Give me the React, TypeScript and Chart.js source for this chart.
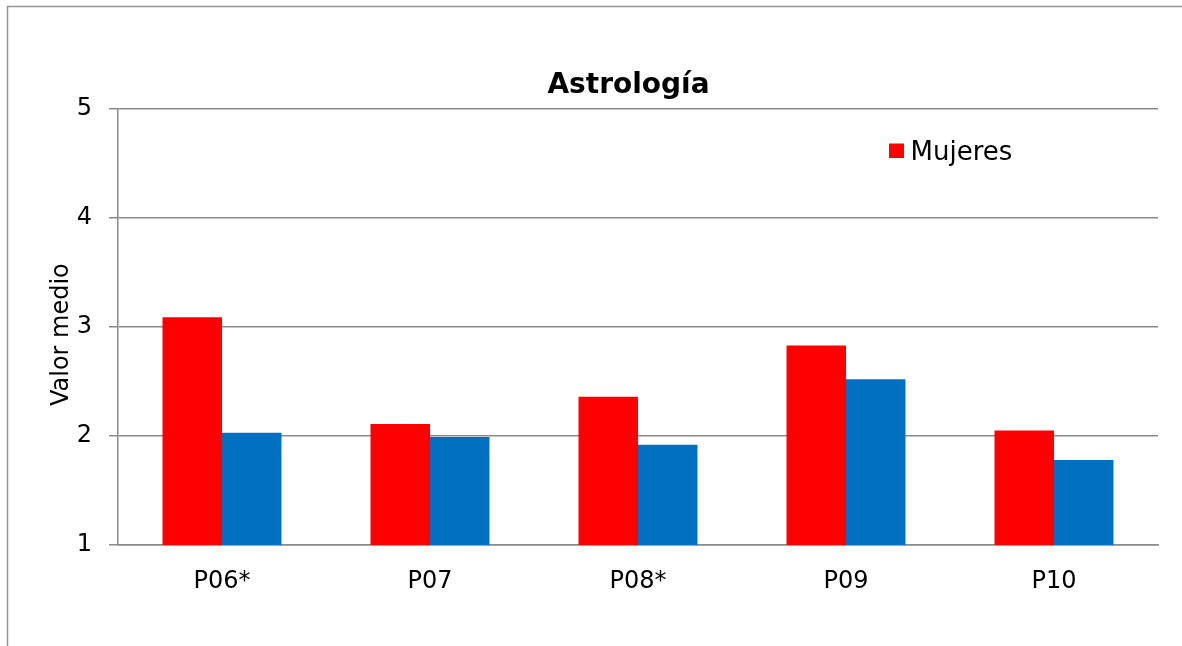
import React, { useEffect, useRef } from "react";
import { Chart, registerables } from "chart.js";

Chart.register(...registerables);

const categories = ["P06*", "P07", "P08*", "P09", "P10"];
const mujeres = [3.09, 2.11, 2.36, 2.83, 2.05];
const hombres = [2.03, 1.99, 1.92, 2.52, 1.78];
const yTicks = [1, 2, 3, 4, 5];
const chartTitle = "Astrología";
const yTitle = "Valor medio";
const legendLabel = "Mujeres";
const secondLabel = "Hombres";

const FONT = "'DejaVu Sans', Verdana, sans-serif";
const RED = "#FF0000";
const BLUE = "#0070C0";
const GRID = "#8a8a8a";

const decorPlugin = {
  id: "decor",
  beforeDraw(chart: any) {
    const ctx = chart.ctx;
    ctx.save();
    ctx.strokeStyle = "#959595";
    ctx.lineWidth = 1.5;
    ctx.beginPath();
    ctx.moveTo(7.5, 700);
    ctx.lineTo(7.5, 6.5);
    ctx.lineTo(1200, 6.5);
    ctx.stroke();
    ctx.restore();
  },
  afterDraw(chart: any) {
    const ctx = chart.ctx;
    ctx.save();
    // title
    ctx.fillStyle = "#000";
    ctx.font = `bold 28px ${FONT}`;
    ctx.textAlign = "center";
    ctx.textBaseline = "alphabetic";
    ctx.fillText(chartTitle, 628.5, 92.5);
    // legend (first series only)
    ctx.fillStyle = RED;
    ctx.fillRect(889, 143.5, 15, 14.5);
    ctx.fillStyle = "#000";
    ctx.font = `26px ${FONT}`;
    ctx.textAlign = "left";
    ctx.fillText(legendLabel, 910.5, 160);
    ctx.restore();
  },
};

export default function App() {
  const ref = useRef<HTMLCanvasElement | null>(null);

  useEffect(() => {
    document.body.style.margin = "0";
    if (!ref.current) return;
    const chart = new Chart(ref.current, {
      type: "bar",
      data: {
        labels: categories,
        datasets: [
          {
            label: legendLabel,
            data: mujeres,
            backgroundColor: RED,
            borderWidth: 0,
            categoryPercentage: 0.572,
            barPercentage: 1,
          },
          {
            label: secondLabel,
            data: hombres,
            backgroundColor: BLUE,
            borderWidth: 0,
            categoryPercentage: 0.572,
            barPercentage: 1,
          },
        ],
      },
      options: {
        animation: false,
        responsive: false,
        devicePixelRatio: 1,
        layout: { padding: { top: 109, right: 24, bottom: 0, left: 0 } },
        plugins: {
          legend: { display: false },
          title: { display: false },
          tooltip: { enabled: false },
        },
        scales: {
          x: {
            afterFit: (s: any) => {
              s.height = 101;
            },
            grid: { display: false, drawTicks: false },
            border: { display: true, color: GRID, width: 1.5 },
            ticks: {
              color: "#000",
              padding: 22,
              font: { family: FONT, size: 24 },
            },
          },
          y: {
            min: 1,
            max: 5,
            afterFit: (s: any) => {
              s.width = 118;
            },
            afterBuildTicks: (s: any) => {
              s.ticks = yTicks.map((v) => ({ value: v }));
            },
            grid: {
              color: GRID,
              lineWidth: 1.5,
              drawTicks: true,
              tickLength: 9,
            },
            border: { display: true, color: GRID, width: 1.5 },
            ticks: {
              color: "#000",
              padding: 17,
              font: { family: FONT, size: 24 },
            },
            title: {
              display: true,
              text: yTitle + "  ",
              color: "#000",
              font: { family: FONT, size: 24 },
              padding: { top: 47.6, bottom: 0 },
            },
          },
        },
      },
      plugins: [decorPlugin],
    });
    return () => chart.destroy();
  }, []);

  return (
    <div style={{ width: 1182, height: 646, position: "relative" }}>
      <canvas ref={ref} width={1182} height={646} style={{ display: "block" }} />
    </div>
  );
}
